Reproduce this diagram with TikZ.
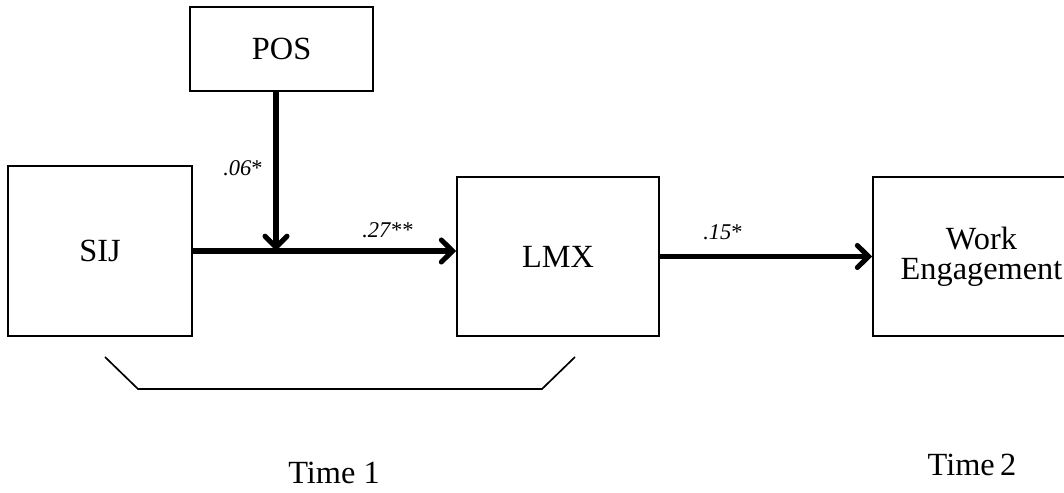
\documentclass[tikz,border=0pt]{standalone}
\usepackage{fontspec}
\setmainfont{Liberation Serif}
\usetikzlibrary{arrows.meta}

\begin{document}
\begin{tikzpicture}[
    box/.style={rectangle, draw, line width=1.2pt, align=center, inner sep=0pt, font=\fontsize{23}{21.5}\selectfont},
    path/.style={line width=3.6pt, -{Straight Barb[length=0.28cm, width=0.55cm, line cap=round]}},
    coef/.style={font=\fontsize{16}{18}\selectfont}]

    \clip (0,0) rectangle (26.6,12.325);

    \node[box, minimum width=4.575cm, minimum height=2.1cm] (POS) at (7.04,11.1) {POS};
    \node[box, minimum width=4.6cm, minimum height=4.25cm] (SIJ) at (2.5,6.05) {SIJ};
    \node[box, minimum width=5.05cm, minimum height=3.975cm] (LMX) at (13.95,5.9125) {LMX};
    \node[box, minimum width=5.425cm, minimum height=3.975cm] (WE) at (24.5375,5.9125) {Work\\Engagement};
    \coordinate (join) at (6.9,6.05);

    \draw[path] (SIJ.east) -- (SIJ.east -| LMX.west);
    \draw[path] (POS.south -| join) -- (join);
    \draw[path] (LMX.east) -- (WE.west);

    \node[coef] (c1) at (6.075,8.125) {\textit{.06}*};
    \node[coef] (c2) at (9.7,6.575) {\textit{.27}**};
    \node[coef] (c3) at (18.075,6.525) {\textit{.15}*};

    % bracket under time 1 measures
    \draw[line width=1.2pt] (2.625,3.4) -- (3.45,2.6) -- (13.55,2.6) -- (14.375,3.4);

    \node[font=\fontsize{23}{28}\selectfont] (t1) at (8.35,0.5) {Time 1};
    \node[font=\fontsize{23}{28}\selectfont] (t2) at (24.3,0.7) {Time\,2};
\end{tikzpicture}
\end{document}
